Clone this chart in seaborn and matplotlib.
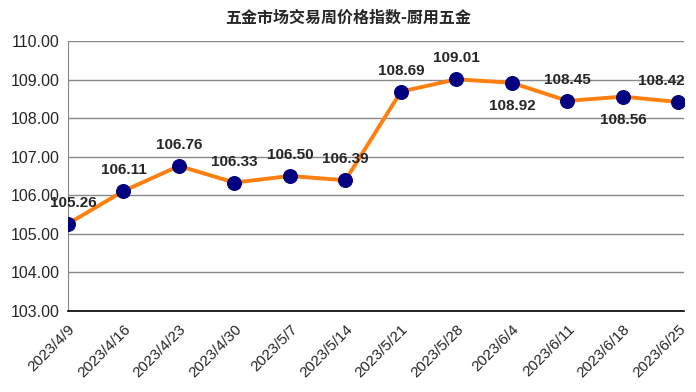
import seaborn as sns
import matplotlib.pyplot as plt
import pandas as pd

dates = ["2023/4/9", "2023/4/16", "2023/4/23", "2023/4/30", "2023/5/7", "2023/5/14",
         "2023/5/21", "2023/5/28", "2023/6/4", "2023/6/11", "2023/6/18", "2023/6/25"]
index_values = [105.26, 106.11, 106.76, 106.33, 106.50, 106.39,
                108.69, 109.01, 108.92, 108.45, 108.56, 108.42]
# label placement: 1 above, -1 below
label_side = [1, 1, 1, 1, 1, 1, 1, 1, -1, 1, -1, 1]
y_ticks = [103, 104, 105, 106, 107, 108, 109, 110]

df = pd.DataFrame({"pos": range(len(dates)), "value": index_values})

sns.set_style("white")
plt.rcParams['font.family'] = ['Liberation Sans', 'Noto Sans CJK SC', 'DejaVu Sans']

fig = plt.figure(figsize=(6.96, 3.92), dpi=100)
ax = fig.add_axes([0.0977, 0.207, 0.885, 0.688])

sns.lineplot(data=df, x="pos", y="value", ax=ax, color="#FF7F0E", linewidth=2.8,
             marker="o", markersize=10, markerfacecolor="#000080",
             markeredgecolor="#000080", zorder=3)

for i, (v, s) in enumerate(zip(index_values, label_side)):
    dx = 0
    if i == 0:
        dx = 4
    if i == len(dates) - 1:
        dx = -12
    ax.annotate(f"{v:.2f}", (i, v), xytext=(dx, 15 * s + (2 * min(s, 0))),
                textcoords="offset points", ha="center", va="center",
                fontsize=11, fontweight="bold")

ax.set_xlim(0, 11.1)
ax.set_ylim(103, 110)
ax.set_yticks(y_ticks)
ax.set_yticklabels([f"{t:.2f}" for t in y_ticks], fontsize=11.5)
ax.set_xticks(range(len(dates)))
ax.set_xticklabels(dates, rotation=45, ha="right", rotation_mode="anchor", fontsize=11)
ax.tick_params(axis="x", direction="in", length=5, color="black", pad=8)
ax.tick_params(axis="y", length=0, pad=6)
ax.grid(axis="y", color="#888888", linewidth=1)
ax.set_xlabel("")
ax.set_ylabel("")
for side in ["top", "right"]:
    ax.spines[side].set_visible(False)
ax.spines["left"].set_color("#888888")
ax.spines["bottom"].set_color("black")
ax.spines["bottom"].set_linewidth(1.2)

fig.suptitle("五金市场交易周价格指数-厨用五金", y=0.975, fontsize=11.5,
             fontweight="bold", family=["Noto Sans CJK SC", "DejaVu Sans"])

fig.savefig("out.png", dpi=100)
